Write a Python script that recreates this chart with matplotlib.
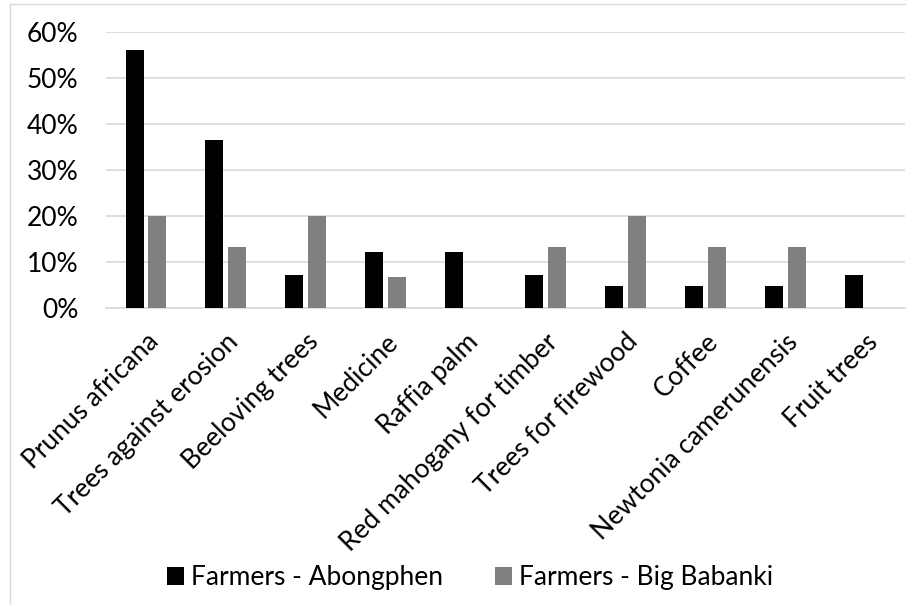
import matplotlib
matplotlib.use("Agg")
import matplotlib.pyplot as plt
import numpy as np
from matplotlib.patches import Rectangle
from matplotlib.ticker import PercentFormatter

plt.rcParams["font.family"] = ["Lato", "DejaVu Sans"]

categories = [
    "Prunus africana",
    "Trees against erosion",
    "Beeloving trees",
    "Medicine",
    "Raffia palm",
    "Red mahogany for timber",
    "Trees for firewood",
    "Coffee",
    "Newtonia camerunensis",
    "Fruit trees",
]
abongphen = [0.561, 0.366, 0.073, 0.122, 0.122, 0.073, 0.049, 0.049, 0.049, 0.073]
big_babanki = [0.200, 0.133, 0.200, 0.067, 0.0, 0.133, 0.200, 0.133, 0.133, 0.0]
series_labels = ["Farmers - Abongphen", "Farmers - Big Babanki"]

W, H = 906, 605
fig = plt.figure(figsize=(W / 100, H / 100), dpi=100)

# light chart-area frame
fig.patches.append(Rectangle((10 / W, -0.05), 1.2, (H - 4) / H + 0.05,
                             transform=fig.transFigure, fill=False,
                             edgecolor="#d9d9d9", linewidth=1.0))

ax = fig.add_axes([106 / W, (H - 308.3) / H, 799 / W, 276 / H])

x = np.arange(len(categories))
width = 0.225
offset = 0.143
ax.bar(x - offset, abongphen, width, color="black", label=series_labels[0], zorder=3)
ax.bar(x + offset, big_babanki, width, color="#808080", label=series_labels[1], zorder=3)

ax.set_xlim(-0.5, len(categories) - 0.5)
ax.set_ylim(0, 0.6)
ax.set_yticks(np.arange(0, 0.61, 0.1))
ax.yaxis.set_major_formatter(PercentFormatter(1.0, decimals=0))
ax.grid(axis="y", color="#d9d9d9", linewidth=1.2, zorder=0)
ax.tick_params(length=0, labelsize=19, colors="#000000")
ax.tick_params(axis="y", pad=20)

ax.set_xticks(x)
ax.set_xticklabels(categories, rotation=45, ha="right", va="top",
                   rotation_mode="anchor")
ax.tick_params(axis="x", pad=15)

for side in ("left", "right", "top"):
    ax.spines[side].set_visible(False)
ax.spines["bottom"].set_color("#d9d9d9")
ax.spines["bottom"].set_linewidth(1.2)

fig.legend(loc="center", bbox_to_anchor=(470 / W, (H - 578) / H), ncol=2,
           frameon=False, fontsize=19, handlelength=0.65, handleheight=0.65,
           handletextpad=0.25, columnspacing=2.0)

fig.savefig("out.png", dpi=100)
